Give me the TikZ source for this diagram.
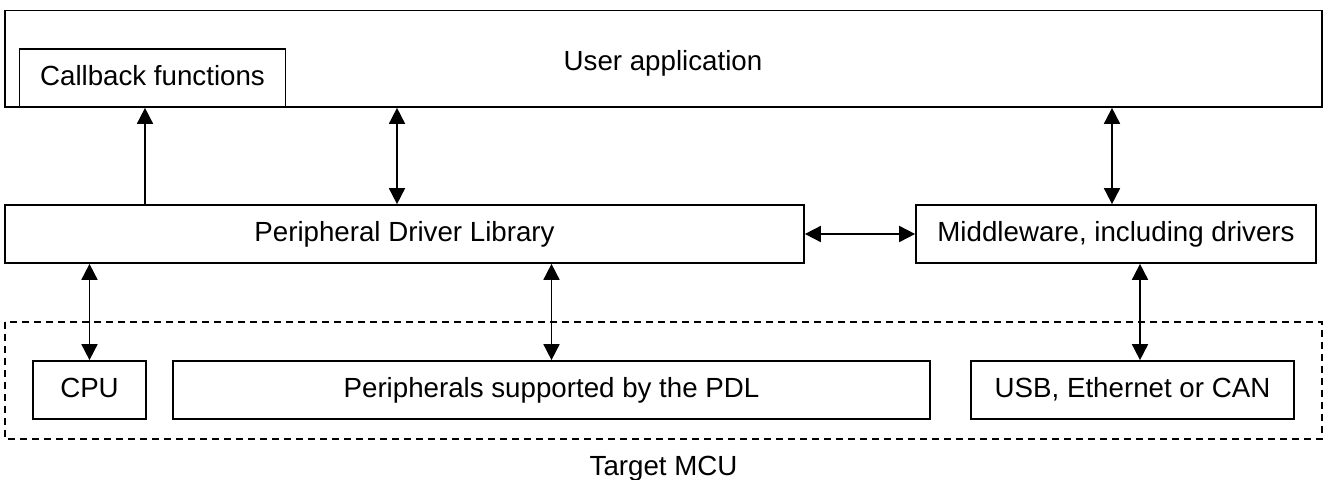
\documentclass[tikz,border=0pt]{standalone}
\usepackage{fontspec}
\setmainfont{Liberation Sans}
\usetikzlibrary{arrows.meta}
\begin{document}
\begin{tikzpicture}[x=1pt,y=-1pt,
  every node/.style={font=\fontsize{27.7pt}{33pt}\selectfont, inner sep=0pt},
  blk/.style={draw, line width=1.7pt, fill=white, text height=20pt, text depth=6pt},
  mcuframe/.style={draw, line width=1.7pt, dash pattern=on 7pt off 5pt},
  conn/.style={line width=1.7pt},
  tip/.tip={Triangle[length=16pt,width=16pt]},
  onehead/.style={conn, -tip},
  twohead/.style={conn, tip-tip}]
\useasboundingbox (0,0) rectangle (1324,479);

% Target MCU frame and its label
\draw[mcuframe] (5,322) rectangle (1322,439);
\node[anchor=base] (mculbl) at (663.5,475) {Target MCU};

% Application layer
\node[draw, line width=1.7pt, minimum width=1317pt, minimum height=96.5pt] (user) at (663.5,58.75) {};
\node[anchor=base] (userlbl) at (663,70) {User application};
\node[blk, minimum width=266pt, minimum height=58pt] (cb) at (152.5,78) {Callback functions};

% Driver layer
\node[blk, minimum width=799pt, minimum height=58pt] (pdl) at (404.5,234) {Peripheral Driver Library};
\node[blk, minimum width=400pt, minimum height=58pt] (mw) at (1116,234) {Middleware, including drivers};

% Hardware blocks
\node[blk, minimum width=113pt, minimum height=58pt] (cpu) at (89.5,390) {CPU};
\node[blk, minimum width=757pt, minimum height=58pt] (per) at (551.5,390) {Peripherals supported by the PDL};
\node[blk, minimum width=323pt, minimum height=58pt] (usb) at (1132.5,390) {USB, Ethernet or CAN};

% Connector positions
\coordinate (cbx) at ([xshift=-7.5pt]cb.south);
\coordinate (pdlx) at ([xshift=-7.5pt]pdl.north);
\coordinate (mwx) at ([xshift=-4pt]mw.north);
\coordinate (usbx) at ([xshift=7.5pt]usb.north);

% Connectors
\draw[onehead] (cbx |- pdl.north) -- (cbx);
\draw[twohead] (pdlx) -- (pdlx |- user.south);
\draw[twohead] (mwx) -- (mwx |- user.south);
\draw[twohead] (pdl.east) -- (mw.west);
\draw[twohead] (cpu.north |- pdl.south) -- (cpu.north);
\draw[twohead] (per.north |- pdl.south) -- (per.north);
\draw[twohead] (usbx |- mw.south) -- (usbx);
\end{tikzpicture}
\end{document}
